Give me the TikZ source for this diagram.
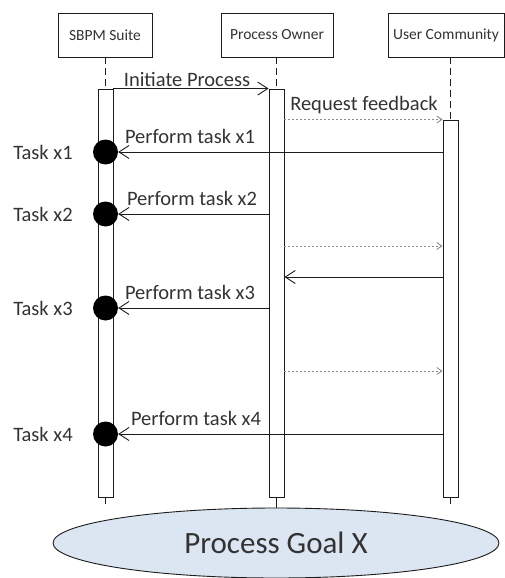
\documentclass[tikz,border=0pt]{standalone}
\usepackage{fontspec}
\setmainfont{Carlito}
\usetikzlibrary{arrows.meta,shapes.geometric,backgrounds}
\definecolor{ink}{HTML}{1C1C1C}
\definecolor{txt}{HTML}{333333}
\definecolor{dashgray}{HTML}{8C8C8C}
\definecolor{goalfill}{HTML}{DCE6F2}

\begin{document}
\begin{tikzpicture}[x=1pt,y=-1pt,
  head/.style={draw=ink, fill=white, line width=0.9pt, minimum height=44pt, inner sep=0pt, text=txt, font=\fontsize{15.5}{18}\selectfont},
  bar/.style={draw=ink, fill=white, line width=0.9pt, minimum width=15pt, inner sep=0pt},
  life/.style={draw=ink, line width=0.9pt, dash pattern=on 7pt off 4pt},
  dot/.style={circle, fill=black, minimum size=25pt, inner sep=0pt},
  msg/.style={draw=ink, line width=0.9pt, -{Straight Barb[length=10pt,width=13pt,line width=0.9pt]}},
  reply/.style={draw=dashgray, line width=0.9pt, dash pattern=on 2pt off 2pt, -{Straight Barb[length=5pt,width=7pt,line width=0.9pt]}},
  lbl/.style={text=txt, anchor=base, inner sep=0pt, font=\fontsize{20.5}{24}\selectfont},
  tasklbl/.style={text=txt, inner sep=0pt, font=\fontsize{20.5}{24}\selectfont},
  goalnode/.style={ellipse, draw=ink, fill=goalfill, line width=0.9pt, minimum width=446pt, minimum height=70pt, text=txt, font=\fontsize{31}{36}\selectfont}]
\useasboundingbox (0,0) rectangle (505,578);

\node[head, minimum width=94pt] (hsb) at (105,35) {SBPM Suite};
\node[head, minimum width=112pt] (hpo) at (277,35) {Process Owner};
\node[head, minimum width=116pt] (huc) at (446,35) {User Community};

\node[bar, minimum height=408pt] (bsb) at (105.5,293) {};
\node[bar, minimum height=408pt] (bpo) at (276.5,293) {};
\node[bar, minimum height=377pt] (buc) at (450.5,308.5) {};

\draw[life] (hsb.south -| bsb) -- (bsb.north);
\draw[life] (hpo.south -| bpo) -- (bpo.north);
\draw[life] (huc.south -| buc) -- (buc.north);

\node[dot] (tk1) at (105.5,152) {};
\node[dot] (tk2) at (105.5,214) {};
\node[dot] (tk3) at (105.5,308) {};
\node[dot] (tk4) at (105.5,434) {};
\coordinate (q2) at (0,246);
\coordinate (r2) at (0,277);
\coordinate (q3) at (0,371);

\draw[msg] (bsb.north east) -- (bpo.north west);
\draw[reply] (bpo.east |- buc.north) -- (buc.north west);
\draw[msg] (buc.west |- tk1) -- (tk1);
\draw[msg] (bpo.west |- tk2) -- (tk2);
\draw[reply] (bpo.east |- q2) -- (buc.west |- q2);
\draw[msg] (buc.west |- r2) -- (bpo.east |- r2);
\draw[msg] (bpo.west |- tk3) -- (tk3);
\draw[reply] (bpo.east |- q3) -- (buc.west |- q3);
\draw[msg] (buc.west |- tk4) -- (tk4);

\node[lbl] (m1) at (187,86) {Initiate Process};
\node[lbl] (m2) at (364,110) {Request feedback};
\node[lbl] (m3) at (190,143) {Perform task x1};
\node[lbl] (m4) at (192,205) {Perform task x2};
\node[lbl] (m5) at (190,299) {Perform task x3};
\node[lbl] (m6) at (196,425) {Perform task x4};

\node[tasklbl] (t1) at (43,152) {Task x1};
\node[tasklbl] (t2) at (43,214) {Task x2};
\node[tasklbl] (t3) at (43,308) {Task x3};
\node[tasklbl] (t4) at (43,434) {Task x4};

\node[goalnode] (goal) at (276,543) {Process Goal X};

\begin{scope}[on background layer]
\draw[life] (bsb.south) -- (bsb.south |- goal.north);
\draw[draw=ink, line width=0.9pt] (bpo.south) -- (bpo.south |- goal.north);
\draw[life] (buc.south) -- (buc.south |- goal.north);
\end{scope}
\end{tikzpicture}
\end{document}
